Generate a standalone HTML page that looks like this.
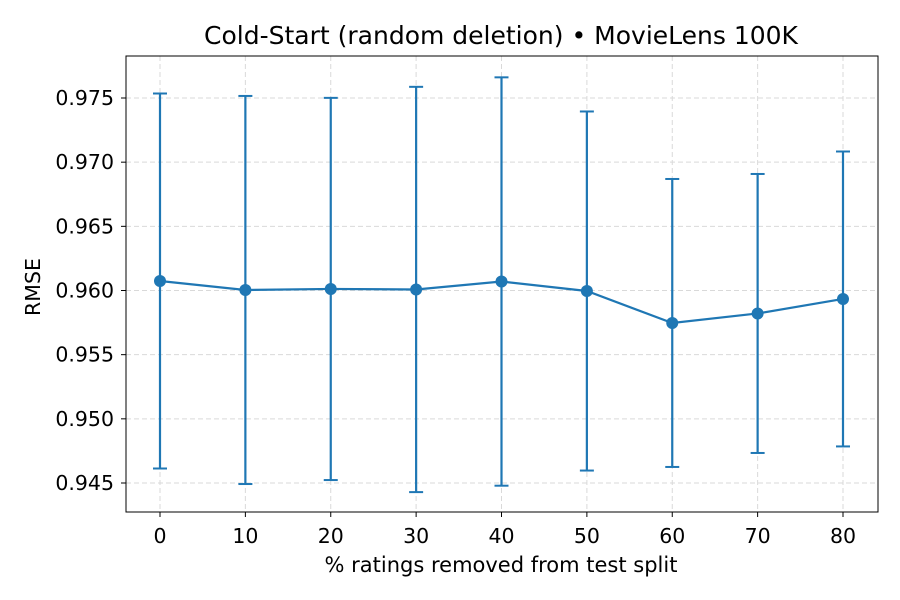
<!DOCTYPE html>
<html><head><meta charset="utf-8"><style>
body{margin:0;background:#fff;}
svg{display:block;font-family:"DejaVu Sans","Liberation Sans",sans-serif;}
</style></head><body>
<svg id="chart" width="900" height="600">
<rect width="900" height="600" fill="#fff"/>
<text x="501" y="44" text-anchor="middle" font-size="25" fill="#000">Cold-Start (random deletion) • MovieLens 100K</text>
<text x="501" y="572" text-anchor="middle" font-size="21" fill="#000">% ratings removed from test split</text>
<text x="40" y="287" text-anchor="middle" font-size="20.5" fill="#000" transform="rotate(-90 40 287)">RMSE</text>
<g id="grid"></g><g id="marks"></g><g id="axes"></g>
</svg>
<script>
const categories = [0,10,20,30,40,50,60,70,80];
const meanRmse = [0.96074,0.96004,0.96012,0.96008,0.9607,0.95996,0.95747,0.95821,0.95934];
const stdRmse = [0.01461,0.01512,0.01489,0.01579,0.01591,0.01399,0.01122,0.01087,0.01149];
const xTicks = [0,10,20,30,40,50,60,70,80];
const yTicks = [0.945,0.950,0.955,0.960,0.965,0.970,0.975];
const L=126,R=878,T=56,B=512;
const xs=v=>160+(v-0)*(843-160)/80;
const ys=v=>483+(v-0.945)*(98-483)/0.030;
const NS="http://www.w3.org/2000/svg";
function mk(tag,attrs,parent){const e=document.createElementNS(NS,tag);for(const k in attrs)e.setAttribute(k,attrs[k]);parent.appendChild(e);return e;}
const grid=document.getElementById('grid'),marks=document.getElementById('marks'),axes=document.getElementById('axes');
xTicks.forEach(t=>{
  const l=mk('line',{x1:xs(t),x2:xs(t),y1:T,y2:B,stroke:'#d9d9d9','stroke-dasharray':'5,3','stroke-width':1},grid);
  
  
  const k=mk('line',{x1:xs(t),x2:xs(t),y1:B,y2:B+5,stroke:'#000'},axes);
  
  
  const tx=mk('text',{x:xs(t),y:B+31,'text-anchor':'middle','font-size':20.5},axes);tx.textContent=t;
  
  
});
yTicks.forEach(t=>{
  const l=mk('line',{x1:L,x2:R,y1:ys(t),y2:ys(t),stroke:'#d9d9d9','stroke-dasharray':'5,3','stroke-width':1},grid);
  
  
  const k=mk('line',{x1:L-5,x2:L,y1:ys(t),y2:ys(t),stroke:'#000'},axes);
  
  
  const tx=mk('text',{x:L-12,y:ys(t)+7,'text-anchor':'end','font-size':20.5},axes);tx.textContent=t.toFixed(3);
  
  
});
const frame=mk('rect',{x:L,y:T,width:R-L,height:B-T,fill:'none',stroke:'#000','stroke-width':1},axes);


const C='#1f77b4';
categories.forEach((c,i)=>{
  const x=xs(c),y1=ys(meanRmse[i]+stdRmse[i]),y2=ys(meanRmse[i]-stdRmse[i]);
  const g=mk('g',{},marks);
  
  
  mk('line',{x1:x,x2:x,y1:y1,y2:y2,stroke:C,'stroke-width':2.2},g);
  mk('line',{x1:x-7,x2:x+7,y1:y1,y2:y1,stroke:C,'stroke-width':2},g);
  mk('line',{x1:x-7,x2:x+7,y1:y2,y2:y2,stroke:C,'stroke-width':2},g);
});
const pl=mk('polyline',{points:categories.map((c,i)=>xs(c)+','+ys(meanRmse[i])).join(' '),fill:'none',stroke:C,'stroke-width':2.2},marks);


categories.forEach((c,i)=>{
  const p=mk('circle',{cx:xs(c),cy:ys(meanRmse[i]),r:6,fill:C},marks);
  
  
});
</script>
</body></html>
